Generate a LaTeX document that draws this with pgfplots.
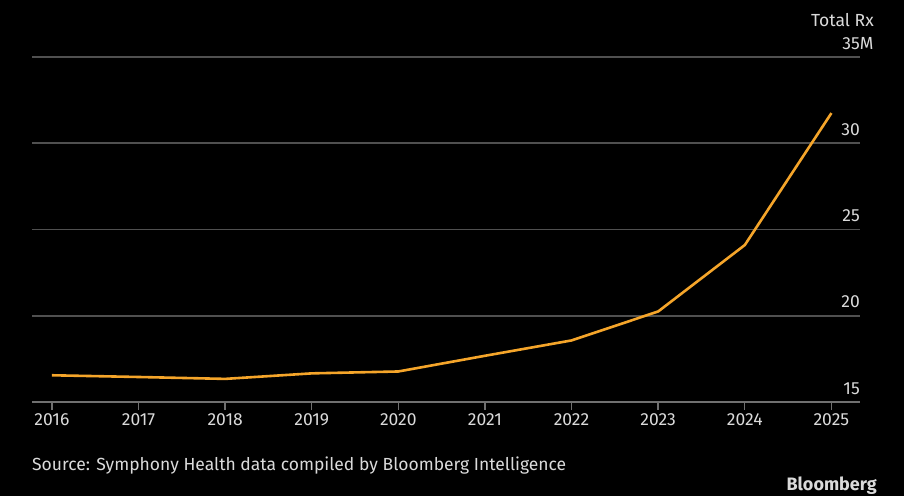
\documentclass[border=0pt]{standalone}
\usepackage{pgfplots}
\pgfplotsset{compat=1.18}
\usepackage{fontspec}
\setmainfont{Fira Sans}
\definecolor{txt}{HTML}{DADADA}
\definecolor{gridc}{HTML}{505050}
\definecolor{axc}{HTML}{707070}
\definecolor{linec}{HTML}{F5A52A}
\pgfplotstableread{
year value
2016 16.55
2017 16.45
2018 16.34
2019 16.66
2020 16.77
2021 17.68
2022 18.57
2023 20.25
2024 24.10
2025 31.75
}\datatable
\begin{document}
\begin{tikzpicture}
\fill[black] (0pt,0pt) rectangle (904pt,496pt);
\begin{axis}[
  at={(32pt,94pt)}, anchor=south west,
  scale only axis, width=828pt, height=345pt,
  xmin=2015.77, xmax=2025.33, ymin=15, ymax=35,
  axis line style={draw=none},
  xtick={2016,2017,...,2025},
  ytick={15,20,25,30,35},
  yticklabels={15,20,25,30,35\rlap{M}},
  /pgf/number format/1000 sep={},
  /pgf/number format/assume math mode=true,
  ymajorgrids, grid style={gridc, line width=1.6pt},
  xtick pos=lower,
  xtick align=outside, major tick length=8pt,
  xtick style={axc, line width=1.4pt},
  ytick style={draw=none},
  yticklabel pos=right,
  yticklabel style={anchor=base east, xshift=0pt, yshift=8pt, font=\fontsize{17.5}{19}\selectfont, text=txt, inner sep=0pt},
  xticklabel style={font=\fontsize{17.5}{19}\selectfont, text=txt, anchor=base, yshift=-15pt, inner sep=0pt},
  clip=false,
]
\addplot[draw=axc, line width=1.8pt, forget plot] coordinates {(2015.77,15) (2025.33,15)};
\addplot[linec, line width=2.6pt, line join=round] table[x=year, y=value] {\datatable};
\node[anchor=base east, text=txt, font=\fontsize{17.5}{19}\selectfont, inner sep=0pt] at ([xshift=14pt, yshift=31pt]rel axis cs:1,1) {Total Rx};
\end{axis}
\node[anchor=base west, text=txt, font=\fontsize{17.5}{19}\selectfont, inner sep=0pt] at (32pt,26pt) {Source: Symphony Health data compiled by Bloomberg Intelligence};
\node[anchor=base east, text=txt, font=\fontsize{18}{20}\selectfont\bfseries, inner sep=0pt] at (877pt,6pt) {Bloomberg};
\pgfresetboundingbox
\path (0pt,0pt) rectangle (904pt,496pt);
\end{tikzpicture}
\end{document}
